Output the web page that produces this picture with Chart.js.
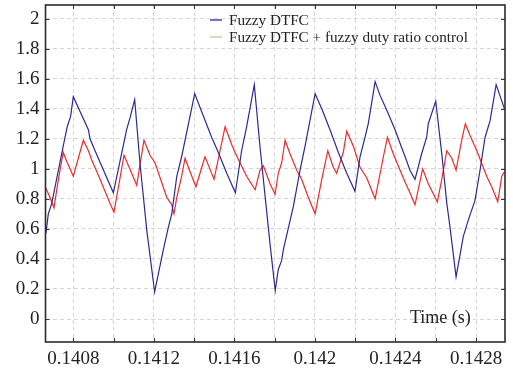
<!DOCTYPE html>
<html>
<head>
<meta charset="utf-8">
<script src="https://cdn.jsdelivr.net/npm/chart.js@4/dist/chart.umd.min.js"></script>
<style>
  html, body { margin: 0; padding: 0; background: #fff; }
  #wrap { width: 513px; height: 372px; }
</style>
</head>
<body>
<div id="wrap"><canvas id="c" width="513" height="372"></canvas></div>
<script>
// series (time in s, value)
const blueT = [0.140664,0.140676,0.140693,0.140750,0.140770,0.140787,0.140800,0.140875,0.140883,0.140908,0.140999,0.141065,0.141082,0.141105,0.141131,0.141165,0.141204,0.141247,0.141272,0.141289,0.141314,0.141338,0.141403,0.141429,0.141487,0.141520,0.141562,0.141605,0.141615,0.141636,0.141661,0.141699,0.141727,0.141777,0.141803,0.141818,0.141835,0.141843,0.141893,0.141926,0.141951,0.142001,0.142034,0.142075,0.142116,0.142158,0.142199,0.142224,0.142249,0.142265,0.142299,0.142323,0.142357,0.142398,0.142431,0.142448,0.142472,0.142497,0.142530,0.142555,0.142563,0.142600,0.142630,0.142655,0.142671,0.142701,0.142737,0.142762,0.142795,0.142820,0.142845,0.142870,0.142900,0.142941];
const blueV = [0.57,0.70,0.77,1.15,1.28,1.35,1.48,1.26,1.20,1.12,0.84,1.26,1.34,1.46,1.04,0.59,0.18,0.46,0.61,0.70,0.95,1.08,1.50,1.41,1.21,1.11,0.97,0.84,0.93,1.12,1.28,1.56,1.15,0.50,0.19,0.33,0.39,0.46,0.75,0.99,1.15,1.50,1.40,1.26,1.11,0.97,0.85,1.08,1.21,1.30,1.58,1.49,1.39,1.26,1.14,1.08,0.99,0.93,1.10,1.21,1.30,1.45,1.10,0.77,0.61,0.28,0.55,0.66,0.79,0.99,1.21,1.32,1.56,1.40];

const redT = [0.140664,0.140684,0.140704,0.140726,0.140750,0.140767,0.140784,0.140800,0.140850,0.140875,0.140891,0.140933,0.140982,0.141002,0.141052,0.141090,0.141115,0.141151,0.141181,0.141206,0.141231,0.141264,0.141289,0.141300,0.141314,0.141338,0.141355,0.141380,0.141409,0.141454,0.141499,0.141554,0.141587,0.141603,0.141628,0.141661,0.141703,0.141727,0.141744,0.141777,0.141802,0.141818,0.141835,0.141852,0.141876,0.141910,0.141934,0.141967,0.142001,0.142034,0.142064,0.142091,0.142108,0.142141,0.142158,0.142191,0.142224,0.142257,0.142299,0.142340,0.142360,0.142389,0.142423,0.142448,0.142472,0.142497,0.142535,0.142563,0.142608,0.142630,0.142655,0.142680,0.142701,0.142729,0.142747,0.142771,0.142804,0.142853,0.142878,0.142908,0.142928,0.142941];
const redV = [0.87,0.81,0.74,0.93,1.11,1.05,1.00,0.95,1.19,1.12,1.06,0.93,0.77,0.71,1.09,0.97,0.89,1.19,1.09,1.04,0.94,0.81,0.76,0.70,0.81,0.95,1.07,0.98,0.88,1.08,0.93,1.28,1.16,1.11,1.04,0.95,0.86,0.99,1.02,0.90,0.83,0.97,1.04,1.19,1.10,0.99,0.93,0.81,0.70,0.93,1.12,1.01,0.97,1.11,1.25,1.15,1.01,0.94,0.80,1.08,1.21,1.10,0.99,0.91,0.84,0.76,1.00,0.90,0.78,0.93,1.12,1.07,0.99,1.19,1.30,1.22,1.12,0.95,0.88,0.78,0.95,0.98];

const xGrid = [0.1408,0.141,0.1412,0.1414,0.1416,0.1418,0.142,0.1422,0.1424,0.1426,0.1428];
const xLabels = ['0.1408','','0.1412','','0.1416','','0.142','','0.1424','','0.1428'];
const yGrid = [0,0.2,0.4,0.6,0.8,1,1.2,1.4,1.6,1.8,2];
const yLabels = ['0','0.2','0.4','0.6','0.8','1','1.2','1.4','1.6','1.8','2'];

const legendNames = ['Fuzzy DTFC', 'Fuzzy DTFC + fuzzy duty ratio control'];
const legendColors = ['#2a2a96', '#c8c2a2'];

const SERIF = '"Liberation Serif", "DejaVu Serif", serif';

const frame = {
  id: 'frame',
  afterDraw(chart) {
    const { ctx, chartArea: a, scales } = chart;
    ctx.save();
    // inner ticks
    ctx.strokeStyle = '#333';
    ctx.lineWidth = 1;
    ctx.beginPath();
    xGrid.forEach(v => {
      const x = Math.round(scales.x.getPixelForValue(v)) + 0.5;
      ctx.moveTo(x, a.top); ctx.lineTo(x, a.top + 4);
      ctx.moveTo(x, a.bottom); ctx.lineTo(x, a.bottom - 4);
    });
    yGrid.forEach(v => {
      const y = Math.round(scales.y.getPixelForValue(v)) + 0.5;
      ctx.moveTo(a.left, y); ctx.lineTo(a.left + 4, y);
      ctx.moveTo(a.right, y); ctx.lineTo(a.right - 4, y);
    });
    ctx.stroke();
    // box
    ctx.lineWidth = 1.6;
    ctx.strokeStyle = '#2b2b2b';
    ctx.strokeRect(a.left, a.top, a.right - a.left, a.bottom - a.top);

    // legend
    ctx.font = '15.2px ' + SERIF;
    ctx.textBaseline = 'middle';
    ctx.fillStyle = '#222';
    legendNames.forEach((name, i) => {
      const y = 20 + i * 17;
      ctx.strokeStyle = legendColors[i];
      ctx.lineWidth = 1.3;
      ctx.beginPath();
      ctx.moveTo(210, y); ctx.lineTo(222, y);
      ctx.stroke();
      ctx.fillText(name, 229, y + 1);
    });

    // axis title inside plot
    ctx.font = '18px ' + SERIF;
    ctx.textAlign = 'left';
    ctx.fillText('Time (s)', 410, 318);
    ctx.restore();
  }
};

new Chart(document.getElementById('c'), {
  type: 'line',
  data: {
    datasets: [
      {
        label: legendNames[0],
        data: blueT.map((t, i) => ({ x: t, y: blueV[i] })),
        borderColor: '#2a2a96',
        borderWidth: 1.2,
        pointRadius: 0,
        tension: 0
      },
      {
        label: legendNames[1],
        data: redT.map((t, i) => ({ x: t, y: redV[i] })),
        borderColor: '#f02a2a',
        borderWidth: 1.2,
        pointRadius: 0,
        tension: 0
      }
    ]
  },
  options: {
    responsive: false,
    animation: false,
    layout: { padding: { top: 5, right: 8, left: 0, bottom: 0 } },
    plugins: { legend: { display: false }, tooltip: { enabled: false } },
    scales: {
      x: {
        type: 'linear',
        min: 0.140662,
        max: 0.142944,
        afterBuildTicks: s => { s.ticks = xGrid.map(v => ({ value: v })); },
        afterFit: s => { s.height = 30; s.paddingLeft = 0; s.paddingRight = 0; },
        grid: { color: '#d6d6d6', drawTicks: false },
        border: { display: false, dash: [4, 3] },
        ticks: {
          autoSkip: false,
          maxRotation: 0,
          padding: 6,
          color: '#222',
          font: { family: SERIF, size: 19 },
          callback: (v, i) => xLabels[i]
        }
      },
      y: {
        min: -0.153,
        max: 2.09,
        afterBuildTicks: s => { s.ticks = yGrid.map(v => ({ value: v })); },
        afterFit: s => { s.width = 45.5; s.paddingTop = 0; s.paddingBottom = 0; },
        grid: { color: '#d6d6d6', drawTicks: false },
        border: { display: false, dash: [4, 3] },
        ticks: {
          padding: 6,
          color: '#222',
          font: { family: SERIF, size: 19 },
          callback: (v, i) => yLabels[i]
        }
      }
    }
  },
  plugins: [frame]
});
</script>
</body>
</html>
